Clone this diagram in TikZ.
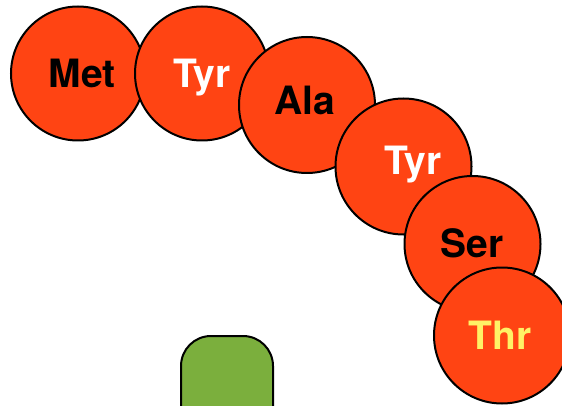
\documentclass[tikz,border=0pt]{standalone}
\usepackage{fontspec}
\setmainfont{TeX Gyre Heros}
\definecolor{aaorange}{HTML}{FF4413}
\definecolor{aagreen}{HTML}{7BAF3D}
\definecolor{aayellow}{HTML}{FFF266}
\begin{document}
\begin{tikzpicture}[x=1pt,y=-1pt,
  aa/.style={circle,draw=black,line width=2pt,fill=aaorange,minimum size=#1,inner sep=0pt},
  aa/.default=136pt,
  aatext/.style={anchor=base,inner sep=0pt,font=\fontsize{39}{39}\selectfont\bfseries}]
\useasboundingbox (0,0) rectangle (562,406);
\fill[white] (0,0) rectangle (562,406);
% green rounded shape
\draw[line width=2pt,fill=aagreen,rounded corners=30pt] (181,420) -- (181,336) -- (273,336) -- (273,420);
% amino-acid chain
\node[aa=134pt] (met) at (78,73.5) {};
\node[aa=134pt] (tyr1) at (202,73.5) {};
\node[aa] (ala) at (307,105) {};
\node[aa] (tyr2) at (403.5,166.5) {};
\node[aa] (ser) at (472.5,244) {};
\node[aa] (thr) at (502,335.5) {};
\node[aatext,text=black] (tmet) at (82,88) {Met};
\node[aatext,text=white] (ttyr1) at (202,88) {Tyr};
\node[aatext,text=black] (tala) at (305,115) {Ala};
\node[aatext,text=white] (ttyr2) at (413,175) {Tyr};
\node[aatext,text=black] (tser) at (472,257) {Ser};
\node[aatext,text=aayellow] (tthr) at (500,349) {Thr};
\end{tikzpicture}
\end{document}
